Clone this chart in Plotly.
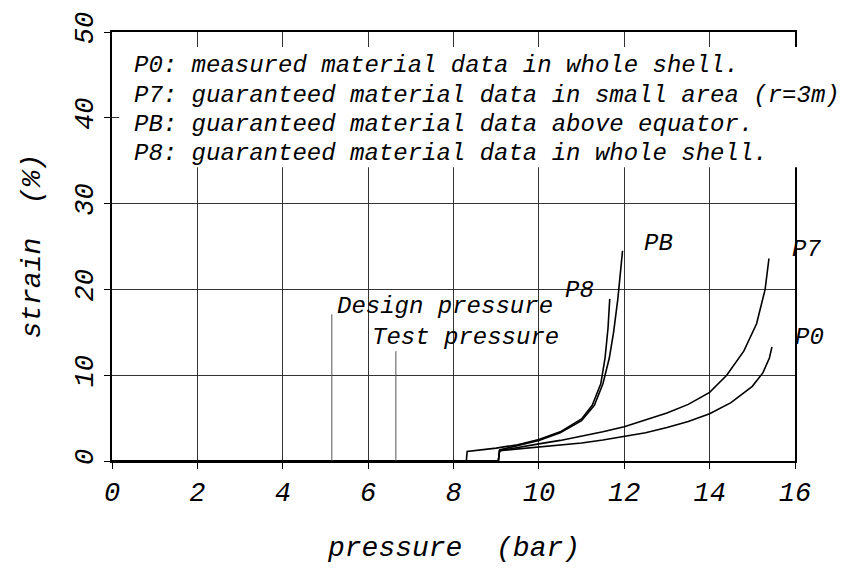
import plotly.graph_objects as go

# Strain versus internal pressure for four material-data assumptions
p0_pressure = [0, 9.05, 9.08, 9.5, 10.0, 10.5, 11.0, 11.5, 12.0, 12.5, 13.0, 13.5, 14.0, 14.5, 15.0, 15.25, 15.4, 15.46]
p0_strain = [0, 0, 1.2, 1.4, 1.6, 1.85, 2.1, 2.45, 2.85, 3.3, 3.9, 4.6, 5.5, 6.8, 8.7, 10.3, 12.0, 13.3]

p7_pressure = [0, 9.05, 9.08, 9.5, 10.0, 10.5, 11.0, 11.5, 12.0, 12.5, 13.0, 13.5, 14.0, 14.4, 14.8, 15.1, 15.3, 15.39]
p7_strain = [0, 0, 1.2, 1.6, 2.0, 2.4, 2.9, 3.4, 4.0, 4.8, 5.6, 6.6, 8.0, 10.0, 12.8, 16.0, 20.0, 23.6]

p8_pressure = [0, 8.3, 8.32, 9.0, 9.5, 10.0, 10.5, 11.0, 11.25, 11.45, 11.55, 11.62, 11.66]
p8_strain = [0, 0, 1.1, 1.5, 1.9, 2.5, 3.4, 4.9, 6.5, 9.0, 12.0, 15.5, 18.9]

pb_pressure = [0, 9.05, 9.08, 9.5, 10.0, 10.5, 11.0, 11.3, 11.5, 11.65, 11.75, 11.85, 11.92, 11.96]
pb_strain = [0, 0, 1.3, 1.8, 2.4, 3.3, 4.7, 6.5, 9.0, 12.0, 15.0, 18.9, 22.0, 24.5]

# Reference pressures (bar) and the strain height of their marker lines
design_pressure = 5.15
design_marker_top = 17.1
test_pressure = 6.65
test_marker_top = 12.8

x_ticks = [0, 2, 4, 6, 8, 10, 12, 14, 16]
y_ticks = [0, 10, 20, 30, 40, 50]

notes = [
    "P0: measured material data in whole shell.",
    "P7: guaranteed material data in small area (r=3m)",
    "PB: guaranteed material data above equator.",
    "P8: guaranteed material data in whole shell.",
]

FONT = "Liberation Mono"
INK = "black"
X_MAX = 16
Y_MAX = 50

fig = go.Figure()

curve = dict(mode="lines", line=dict(color=INK, width=1.6), hoverinfo="skip")
fig.add_trace(go.Scatter(x=p0_pressure, y=p0_strain, name="P0", **curve))
fig.add_trace(go.Scatter(x=p7_pressure, y=p7_strain, name="P7", **curve))
fig.add_trace(go.Scatter(x=p8_pressure, y=p8_strain, name="P8", **curve))
fig.add_trace(go.Scatter(x=pb_pressure, y=pb_strain, name="PB", **curve))

marker_line = dict(mode="lines", line=dict(color="#555", width=1), hoverinfo="skip")
fig.add_trace(go.Scatter(x=[design_pressure, design_pressure], y=[0, design_marker_top], **marker_line))
fig.add_trace(go.Scatter(x=[test_pressure, test_pressure], y=[0, test_marker_top], **marker_line))

# White panel behind the explanatory notes
fig.add_shape(type="rect", xref="paper", yref="paper",
              x0=0.0105, x1=1.12, y0=0.685, y1=0.965,
              fillcolor="white", line=dict(width=0), layer="above")

text_font = dict(family=FONT, size=24, color=INK, style="italic")
note_y = [46.1, 42.65, 39.2, 35.8]
for txt, yy in zip(notes, note_y):
    fig.add_annotation(x=0.47 / X_MAX, y=yy / Y_MAX, xref="paper", yref="paper", text=txt,
                       showarrow=False, xanchor="left", yanchor="middle",
                       font=text_font)

curve_labels = [
    ("Design pressure", 5.22, 18.0, "left"),
    ("Test pressure", 6.04, 14.4, "left"),
    ("P8", 10.96, 19.9, "center"),
    ("PB", 12.8, 25.4, "center"),
    ("P7", 16.26, 24.6, "center"),
    ("P0", 16.33, 14.4, "center"),
]
for txt, xx, yy, anchor in curve_labels:
    fig.add_annotation(x=xx / X_MAX, y=yy / Y_MAX, xref="paper", yref="paper", text=txt,
                       showarrow=False, xanchor=anchor, yanchor="middle",
                       font=text_font)

fig.add_annotation(x=0.5, y=-0.205, xref="paper", yref="paper",
                   text="pressure  (bar)", showarrow=False,
                   xanchor="center", yanchor="middle",
                   font=dict(family=FONT, size=28, color=INK, style="italic"))
fig.add_annotation(x=-0.117, y=0.5, xref="paper", yref="paper",
                   text="strain  (%)", showarrow=False, textangle=-90,
                   xanchor="center", yanchor="middle",
                   font=dict(family=FONT, size=28, color=INK, style="italic"))

axis_common = dict(
    showgrid=True, gridcolor="#333", gridwidth=1,
    showline=True, linecolor=INK, linewidth=1.5, mirror=True,
    ticks="outside", ticklen=6, tickcolor=INK, tickwidth=1,
    zeroline=False,
    tickfont=dict(family=FONT, size=27, color=INK, style="italic"),
)
fig.update_xaxes(range=[0, X_MAX], tickvals=x_ticks, **axis_common)
fig.update_yaxes(range=[0, Y_MAX], tickvals=y_ticks, tickangle=-90, **axis_common)

fig.update_layout(
    width=863, height=569,
    margin=dict(l=112, r=68, t=29, b=108),
    plot_bgcolor="white", paper_bgcolor="white",
    showlegend=False,
)

fig.write_html("out.html")
